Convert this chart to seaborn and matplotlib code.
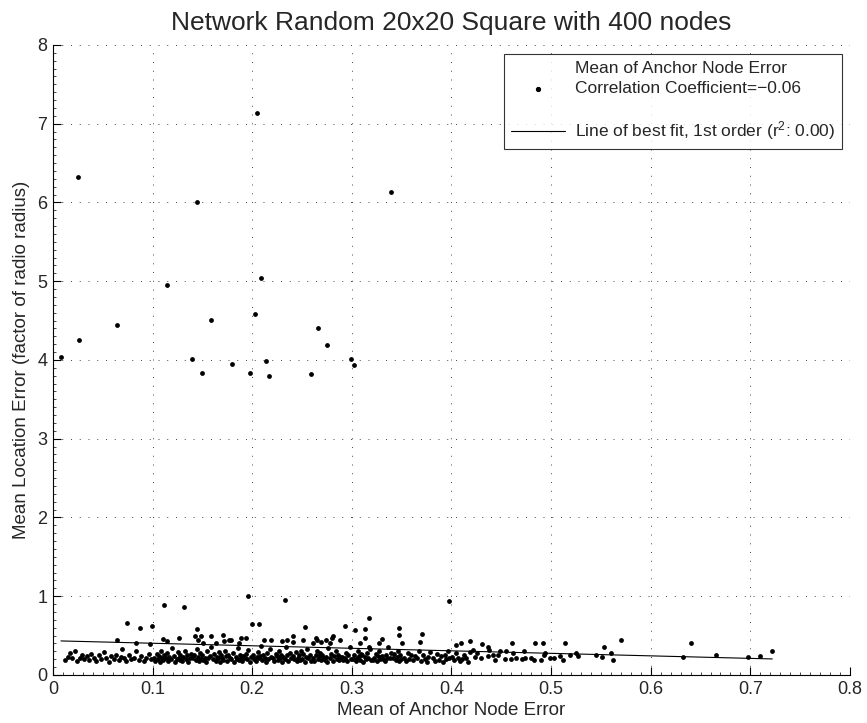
import numpy as np
import pandas as pd
import matplotlib
matplotlib.use("Agg")
import matplotlib.pyplot as plt
from matplotlib.lines import Line2D
from matplotlib.ticker import MultipleLocator
import seaborn as sns

# --- outliers: nodes with large location error ---
out_x = [0.008, 0.025, 0.026, 0.064, 0.114, 0.140, 0.145, 0.150, 0.159, 0.180, 0.198,
         0.203, 0.205, 0.209, 0.214, 0.217, 0.259, 0.266, 0.275, 0.299, 0.302, 0.339]
out_y = [4.04, 6.32, 4.25, 4.44, 4.95, 4.01, 6.01, 3.84, 4.51, 3.95, 3.84,
         4.59, 7.14, 5.04, 3.99, 3.80, 3.82, 4.40, 4.19, 4.01, 3.93, 6.13]

# --- moderately elevated errors (0.35 .. 1.0) ---
mid_x = [0.074, 0.087, 0.099, 0.064, 0.083, 0.097, 0.111, 0.132, 0.196, 0.200, 0.207,
         0.145, 0.143, 0.149, 0.146, 0.159, 0.171, 0.172, 0.177, 0.179, 0.189, 0.194,
         0.126, 0.110, 0.114, 0.164, 0.187, 0.151, 0.233, 0.253, 0.293, 0.303, 0.313,
         0.241, 0.235, 0.230, 0.219, 0.212, 0.251, 0.264, 0.265, 0.274, 0.280, 0.281,
         0.288, 0.313, 0.241, 0.261, 0.269, 0.278, 0.308, 0.398, 0.317, 0.347, 0.347,
         0.330, 0.327, 0.350, 0.370, 0.368, 0.317, 0.405, 0.410, 0.419, 0.431, 0.461,
         0.484, 0.492, 0.514, 0.437, 0.570, 0.553, 0.640]
mid_y = [0.66, 0.60, 0.62, 0.45, 0.41, 0.39, 0.89, 0.86, 1.00, 0.65, 0.65,
         0.59, 0.50, 0.50, 0.45, 0.50, 0.51, 0.43, 0.45, 0.45, 0.47, 0.47,
         0.47, 0.46, 0.43, 0.41, 0.40, 0.40, 0.95, 0.61, 0.62, 0.57, 0.58,
         0.49, 0.45, 0.43, 0.44, 0.44, 0.44, 0.47, 0.44, 0.45, 0.47, 0.50,
         0.44, 0.47, 0.42, 0.40, 0.42, 0.40, 0.40, 0.94, 0.72, 0.60, 0.51,
         0.46, 0.40, 0.40, 0.52, 0.42, 0.36, 0.38, 0.41, 0.43, 0.39, 0.40,
         0.41, 0.41, 0.40, 0.35, 0.44, 0.35, 0.40]

# --- main band, low anchor error ---
band_left_x = [0.012, 0.015, 0.017, 0.019, 0.022, 0.024, 0.027, 0.029, 0.031, 0.034,
               0.036, 0.038, 0.041, 0.043, 0.046, 0.048, 0.051, 0.053, 0.056, 0.058,
               0.061, 0.063, 0.066, 0.068, 0.069, 0.071, 0.073, 0.076, 0.078, 0.081,
               0.083, 0.086, 0.088, 0.091, 0.093, 0.096, 0.098]
band_left_y = [0.19, 0.23, 0.28, 0.21, 0.30, 0.18, 0.22, 0.26, 0.20, 0.24,
               0.19, 0.27, 0.22, 0.18, 0.25, 0.20, 0.29, 0.21, 0.17, 0.24,
               0.20, 0.26, 0.19, 0.23, 0.33, 0.21, 0.18, 0.25, 0.20, 0.22,
               0.30, 0.19, 0.24, 0.18, 0.21, 0.27, 0.20]

band_core_x = [
    0.101, 0.102, 0.104, 0.105, 0.106, 0.107, 0.108, 0.109,
    0.110, 0.111, 0.113, 0.114, 0.115, 0.116, 0.118, 0.119,
    0.121, 0.122, 0.124, 0.125, 0.126, 0.127, 0.128, 0.129,
    0.130, 0.131, 0.133, 0.134, 0.135, 0.136, 0.138, 0.139,
    0.141, 0.142, 0.144, 0.145, 0.146, 0.147, 0.148, 0.149,
    0.150, 0.151, 0.153, 0.154, 0.155, 0.156, 0.158, 0.159,
    0.161, 0.162, 0.164, 0.165, 0.166, 0.167, 0.168, 0.169,
    0.170, 0.171, 0.173, 0.174, 0.175, 0.176, 0.178, 0.179,
    0.181, 0.182, 0.184, 0.185, 0.186, 0.187, 0.188, 0.189,
    0.190, 0.191, 0.193, 0.194, 0.195, 0.196, 0.198, 0.199,
    0.201, 0.202, 0.204, 0.205, 0.206, 0.207, 0.208, 0.209,
    0.210, 0.211, 0.213, 0.214, 0.215, 0.216, 0.218, 0.219,
    0.221, 0.222, 0.224, 0.225, 0.226, 0.227, 0.228, 0.229,
    0.230, 0.231, 0.233, 0.234, 0.235, 0.236, 0.238, 0.239,
    0.241, 0.242, 0.244, 0.245, 0.246, 0.247, 0.248, 0.249,
    0.250, 0.251, 0.253, 0.254, 0.255, 0.256, 0.258, 0.259,
    0.261, 0.262, 0.264, 0.265, 0.266, 0.267, 0.268, 0.269,
    0.270, 0.271, 0.273, 0.274, 0.275, 0.276, 0.278, 0.279,
    0.281, 0.282, 0.284, 0.285, 0.286, 0.287, 0.288, 0.289,
    0.290, 0.291, 0.293, 0.294, 0.295, 0.296, 0.298, 0.299,
    0.301, 0.302, 0.304, 0.305, 0.306, 0.307, 0.308, 0.309,
    0.310, 0.311, 0.313, 0.314, 0.315, 0.316, 0.318, 0.319,
    0.321, 0.322, 0.324, 0.325, 0.326, 0.327, 0.328, 0.329,
    0.330, 0.331, 0.333, 0.334, 0.335, 0.336, 0.338, 0.339,
    0.341, 0.342, 0.344, 0.345, 0.346, 0.347, 0.348, 0.349]
band_core_y = [
    0.22, 0.18, 0.27, 0.20, 0.24, 0.17, 0.31, 0.21,
    0.19, 0.25, 0.21, 0.28, 0.18, 0.23, 0.20, 0.34,
    0.24, 0.17, 0.20, 0.29, 0.22, 0.19, 0.26, 0.21,
    0.18, 0.23, 0.30, 0.20, 0.25, 0.17, 0.22, 0.27,
    0.21, 0.26, 0.19, 0.33, 0.23, 0.18, 0.28, 0.20,
    0.25, 0.19, 0.22, 0.17, 0.30, 0.21, 0.24, 0.36,
    0.20, 0.27, 0.18, 0.23, 0.21, 0.29, 0.17, 0.25,
    0.22, 0.19, 0.31, 0.24, 0.18, 0.26, 0.21, 0.20,
    0.28, 0.17, 0.23, 0.20, 0.34, 0.19, 0.25, 0.22,
    0.18, 0.24, 0.21, 0.27, 0.20, 0.32, 0.17, 0.23,
    0.26, 0.20, 0.18, 0.23, 0.29, 0.21, 0.24, 0.37,
    0.19, 0.25, 0.22, 0.17, 0.28, 0.20, 0.33, 0.23,
    0.21, 0.18, 0.27, 0.24, 0.19, 0.30, 0.22, 0.26,
    0.17, 0.23, 0.20, 0.35, 0.25, 0.18, 0.28, 0.21,
    0.24, 0.20, 0.29, 0.18, 0.22, 0.26, 0.19, 0.31,
    0.20, 0.27, 0.17, 0.23, 0.33, 0.21, 0.25, 0.18,
    0.22, 0.18, 0.25, 0.30, 0.20, 0.24, 0.28, 0.19,
    0.26, 0.21, 0.19, 0.23, 0.17, 0.34, 0.22, 0.27,
    0.18, 0.24, 0.30, 0.20, 0.26, 0.19, 0.23, 0.21,
    0.23, 0.19, 0.21, 0.28, 0.18, 0.25, 0.36, 0.20,
    0.20, 0.26, 0.18, 0.22, 0.31, 0.24, 0.19, 0.27,
    0.25, 0.17, 0.23, 0.20, 0.28, 0.21, 0.33, 0.19,
    0.19, 0.22, 0.27, 0.18, 0.24, 0.30, 0.20, 0.23,
    0.24, 0.20, 0.18, 0.26, 0.21, 0.35, 0.22, 0.28,
    0.21, 0.27, 0.19, 0.23, 0.30, 0.18, 0.25, 0.20]

band_right_x = [0.352, 0.354, 0.356, 0.357, 0.359, 0.361, 0.363, 0.365, 0.367, 0.369,
                0.371, 0.373, 0.375, 0.376, 0.378, 0.381, 0.383, 0.385, 0.387, 0.389,
                0.391, 0.393, 0.394, 0.396, 0.398, 0.401, 0.403, 0.405, 0.407, 0.409,
                0.411, 0.413, 0.415, 0.417, 0.419]
band_right_y = [0.22, 0.18, 0.28, 0.20, 0.25, 0.19, 0.24, 0.21, 0.31, 0.18,
                0.26, 0.20, 0.17, 0.23, 0.29, 0.21, 0.18, 0.27, 0.19, 0.24,
                0.17, 0.25, 0.20, 0.30, 0.22, 0.23, 0.19, 0.28, 0.21, 0.18,
                0.20, 0.26, 0.22, 0.17, 0.29]

# --- sparse tail at high anchor error ---
tail_x = [0.454, 0.460, 0.465, 0.471, 0.474, 0.480, 0.483, 0.490, 0.494, 0.499,
          0.503, 0.509, 0.512, 0.519, 0.525, 0.449, 0.455, 0.462, 0.444, 0.442,
          0.437, 0.430, 0.424, 0.422, 0.426, 0.438, 0.447, 0.493, 0.473, 0.527,
          0.545, 0.551, 0.560, 0.562, 0.632, 0.665, 0.698, 0.710, 0.722]
tail_y = [0.20, 0.20, 0.22, 0.20, 0.22, 0.22, 0.19, 0.19, 0.28, 0.22,
          0.22, 0.24, 0.19, 0.25, 0.28, 0.30, 0.30, 0.28, 0.19, 0.25,
          0.24, 0.22, 0.23, 0.32, 0.28, 0.32, 0.26, 0.25, 0.31, 0.24,
          0.25, 0.23, 0.28, 0.19, 0.23, 0.25, 0.23, 0.24, 0.30]

# first-order fit reported in the legend
fit_intercept = 0.435
fit_slope = -0.32
corr_coef = -0.06
r_squared = 0.00

title = "Network Random 20x20 Square with 400 nodes"
xlabel = "Mean of Anchor Node Error"
ylabel = "Mean Location Error (factor of radio radius)"
x_ticks = [0, 0.1, 0.2, 0.3, 0.4, 0.5, 0.6, 0.7, 0.8]
y_ticks = [0, 1, 2, 3, 4, 5, 6, 7, 8]

# ---------------------------------------------------------------
sns.set_style("white")
plt.rcParams["font.family"] = ["Liberation Sans", "DejaVu Sans"]
plt.rcParams["axes.unicode_minus"] = True

df = pd.DataFrame({
    "anchor": np.concatenate([band_left_x, band_core_x, band_right_x, tail_x, mid_x, out_x]),
    "location": np.concatenate([band_left_y, band_core_y, band_right_y, tail_y, mid_y, out_y]),
})

fig = plt.figure(figsize=(8.67, 7.23), dpi=100)
ax = fig.add_axes([0.0611, 0.0664, 0.9193, 0.8714])

sns.scatterplot(data=df, x="anchor", y="location", ax=ax, color="black",
                s=12, linewidth=0, marker="o", legend=False, zorder=3)

fx = np.array([df["anchor"].min(), df["anchor"].max()])
fit_df = pd.DataFrame({"x": fx, "y": fit_intercept + fit_slope * fx})
sns.lineplot(data=fit_df, x="x", y="y", ax=ax, color="black", linewidth=0.8,
             legend=False, zorder=2)

ax.set_xlim(0, 0.8)
ax.set_ylim(0, 8)
ax.set_xticks(x_ticks)
ax.set_yticks(y_ticks)
ax.set_xticklabels(["0" if v == 0 else f"{v:g}" for v in x_ticks])
ax.set_yticklabels([f"{v:g}" for v in y_ticks])
ax.xaxis.set_minor_locator(MultipleLocator(0.01))
ax.yaxis.set_minor_locator(MultipleLocator(0.1))
ax.tick_params(which="both", direction="in", bottom=True, left=True,
               top=False, right=False, color="black")
ax.tick_params(which="major", length=5.5, width=0.8, labelsize=13)
ax.tick_params(axis="x", which="major", pad=4)
ax.tick_params(axis="y", which="major", pad=4)
ax.tick_params(which="minor", length=2.5, width=0.5)

ax.grid(True, which="major", color="#444444", linestyle=(0, (1, 8)), linewidth=0.7)
for side in ("top", "right"):
    ax.spines[side].set_visible(False)
for side in ("left", "bottom"):
    ax.spines[side].set_color("black")
    ax.spines[side].set_linewidth(0.8)

ax.set_title(title, fontsize=19, pad=11)
ax.set_xlabel(xlabel, fontsize=13.5, labelpad=3)
ax.set_ylabel(ylabel, fontsize=13.5, labelpad=5)

handles = [
    Line2D([], [], color="black", marker="o", markersize=2.8, linestyle="none"),
    Line2D([], [], color="black", linewidth=0.8),
]
labels = [
    f"Mean of Anchor Node Error\nCorrelation Coefficient={corr_coef:.2f}".replace("-", "\u2212") + "\n ",
    f"Line of best fit, 1st order ($\\mathregular{{r^2}}$: {r_squared:.2f})",
]
leg = ax.legend(handles, labels, loc="upper right", bbox_to_anchor=(0.990, 0.9857),
                fontsize=12.5, frameon=True, fancybox=False, edgecolor="black",
                handlelength=3.1, handletextpad=0.55, borderpad=0.4, labelspacing=0.15,
                borderaxespad=0)
for t in leg.get_texts():
    t.set_linespacing(1.45)
leg.get_frame().set_linewidth(0.8)

fig.savefig("out.png", dpi=100, facecolor="white")
